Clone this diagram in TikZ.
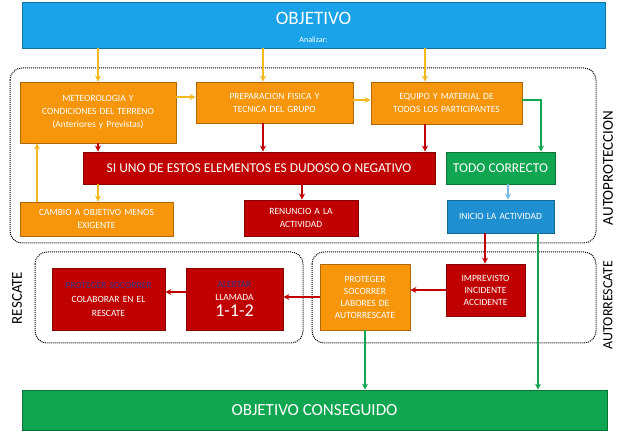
\documentclass[tikz,border=0pt]{standalone}
\usepackage{fontspec}
\setmainfont{Carlito}
\usetikzlibrary{arrows.meta}
\definecolor{cblue}{HTML}{1AA3E8}
\definecolor{corange}{HTML}{F7960A}
\definecolor{cred}{HTML}{C00000}
\definecolor{cgreen}{HTML}{10A550}
\definecolor{cblue2}{HTML}{1E8FD0}
\definecolor{cyel}{HTML}{F5B820}
\definecolor{cnavy}{HTML}{3A3A8A}
\begin{document}
\begin{tikzpicture}[x=1pt,y=-1pt,
 box/.style={draw=#1!70!black,line width=0.8pt,fill=#1,text=white,align=center,font=\fontsize{9.5}{11}\selectfont},
 dots/.style={draw,densely dotted,line width=1pt,rounded corners=12pt},
 ar/.style={-{Stealth[length=6pt,width=6pt]},line width=1.1pt,draw=#1}]
\useasboundingbox (0,0) rectangle (625,433);
\def\bx#1#2#3#4#5#6#7{\node[box=#2,minimum width=#5-#3,minimum height=#6-#4,text width=#5-#3-4,inner sep=1pt] (#1) at ({(#3+#5)/2},{(#4+#6)/2}) {#7};}
\draw[dots] (10,68) rectangle (596,243);
\draw[dots] (35,252) rectangle (303,343);
\draw[dots] (312,252) rectangle (596,343);
\node[box=cblue,minimum width=583,minimum height=46,inner sep=0] (obj) at (313.5,25) {};
\node[text=white,font=\fontsize{19}{22}\selectfont] (objt) at (313.5,18) {OBJETIVO};
\node[text=white,font=\fontsize{8}{9}\selectfont] (ana) at (313.5,40) {Analizar:};
\bx{met}{corange}{20}{82}{176}{143}{METEOROLOGIA Y\\[2pt]CONDICIONES DEL TERRENO\\[2pt](Anteriores y Previstas)}
\bx{pre}{corange}{196}{82}{353}{123}{PREPARACION FISICA Y\\[2pt]TECNICA DEL GRUPO}
\bx{equ}{corange}{371}{82}{522}{124}{EQUIPO Y MATERIAL DE\\[2pt]TODOS LOS PARTICIPANTES}
\bx{si}{cred}{83}{152}{435}{184}{\fontsize{13.5}{15}\selectfont SI UNO DE ESTOS ELEMENTOS ES DUDOSO O NEGATIVO}
\bx{tod}{cgreen}{446}{152}{555}{184}{\fontsize{13.5}{15}\selectfont TODO CORRECTO}
\bx{cam}{corange}{20}{202}{173}{236}{CAMBIO A OBJETIVO MENOS\\[2pt]EXIGENTE}
\bx{ren}{cred}{244}{200}{358}{236}{RENUNCIO A LA\\[2pt]ACTIVIDAD}
\bx{ini}{cblue2}{447}{200}{554}{233}{INICIO LA ACTIVIDAD}
\bx{pro}{cred}{52}{268}{165}{330}{\textcolor{cnavy}{PROTEGER SOCORRER}\\[3pt]COLABORAR EN EL\\[3pt]RESCATE}
\bx{ale}{cred}{186}{268}{283}{330}{\textcolor{cnavy}{ALERTAR}\\[2pt]LLAMADA\\[4pt]{\fontsize{18}{20}\selectfont 1-1-2}}
\bx{ps}{corange}{320}{264}{410}{330}{PROTEGER\\[1pt]SOCORRER\\[1pt]LABORES DE\\[1pt]AUTORRESCATE}
\bx{imp}{cred}{446}{264}{525}{316}{IMPREVISTO\\[1pt]INCIDENTE\\[1pt]ACCIDENTE}
\node[box=cgreen,minimum width=585,minimum height=40,font=\fontsize{17}{19}\selectfont] (con) at (314.5,410) {OBJETIVO CONSEGUIDO};
\node[rotate=90,font=\fontsize{15}{17}\selectfont] (la) at (608,168) {AUTOPROTECCION};
\node[rotate=90,font=\fontsize{14}{16}\selectfont] (lb) at (608,305) {AUTORRESCATE};
\node[rotate=90,font=\fontsize{15}{17}\selectfont] (lc) at (17,298) {RESCATE};
% arrows
\draw[ar=cyel] (98,48) -- (met.north -| 98,0);
\draw[ar=cyel] (263,48) -- (pre.north -| 263,0);
\draw[ar=cyel] (425,48) -- (equ.north -| 425,0);
\draw[ar=cyel] (met.east |- 0,97) -- (pre.west |- 0,97);
\draw[ar=cyel] (pre.east |- 0,100) -- (equ.west |- 0,100);
\draw[ar=cred] (met.south -| 98,0) -- (si.north -| 98,0);
\draw[ar=cred] (pre.south -| 263,0) -- (si.north -| 263,0);
\draw[ar=cred] (equ.south -| 425,0) -- (si.north -| 425,0);
\draw[ar=cgreen] (equ.east |- 0,100) -| (tod.north -| 541,0);
\draw[ar=cyel] (si.south -| 98,0) -- (cam.north -| 98,0);
\draw[ar=cred] (si.south -| 302,0) -- (ren.north -| 302,0);
\draw[ar=cyel] (cam.north -| 37,0) -- (met.south -| 37,0);
\draw[ar=cblue2!60] (tod.south -| 508,0) -- (ini.north -| 508,0);
\draw[ar=cred] (ini.south -| 485,0) -- (imp.north -| 485,0);
\draw[ar=cgreen] (ini.south -| 538,0) -- (con.north -| 538,0);
\draw[ar=cred] (imp.west |- 0,290) -- (ps.east |- 0,290);
\draw[ar=cred] (ps.west |- 0,297) -- (ale.east |- 0,297);
\draw[ar=cred] (ale.west |- 0,292) -- (pro.east |- 0,292);
\draw[ar=cgreen] (ps.south -| 365,0) -- (con.north -| 365,0);
\end{tikzpicture}
\end{document}
